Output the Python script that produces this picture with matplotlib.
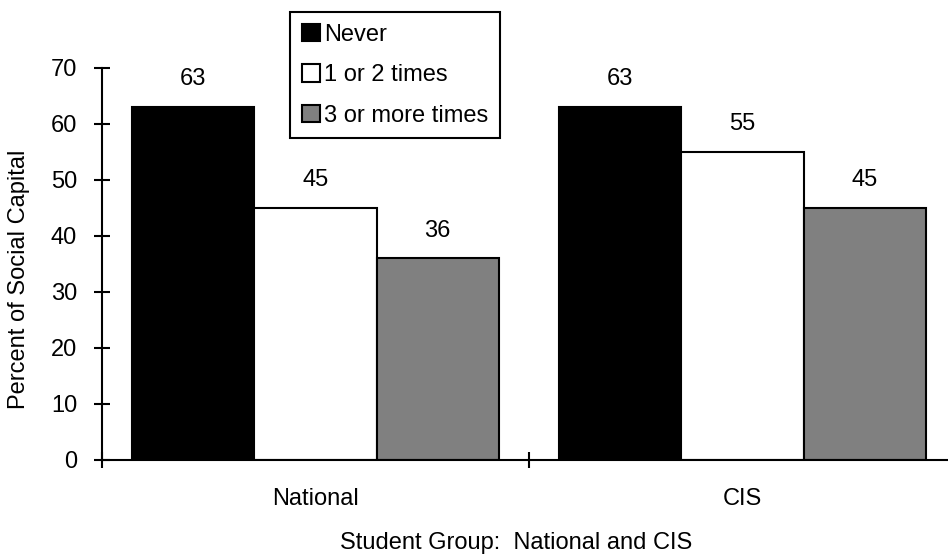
import matplotlib.pyplot as plt
import numpy as np

plt.rcParams['font.family'] = ['Liberation Sans', 'DejaVu Sans']
plt.rcParams['font.size'] = 17

groups = ['National', 'CIS']
series = ['Never', '1 or 2 times', '3 or more times']
values = {
    'Never': [63, 63],
    '1 or 2 times': [45, 55],
    '3 or more times': [36, 45],
}
colors = ['black', 'white', '#808080']

fig = plt.figure(figsize=(9.48, 5.56), dpi=100)
ax = fig.add_axes([0.1076, 0.1727, 0.9008, 0.705])

x = np.arange(len(groups))
w = 0.286
for i, (name, c) in enumerate(zip(series, colors)):
    xs = x + (i - 1) * w
    bars = ax.bar(xs, values[name], w, color=c, edgecolor='black',
                  linewidth=1.5, label=name)
    for b, v in zip(bars, values[name]):
        ax.text(b.get_x() + b.get_width() / 2, v + 3.0, str(v),
                ha='center', va='bottom')

ax.set_xlim(-0.5, 1.5)
ax.set_ylim(0, 70)
ax.set_yticks(range(0, 71, 10))
ax.set_xticks(x)
ax.set_xticklabels(groups)
ax.set_xticks([-0.5, 0.5, 1.5], minor=True)
ax.tick_params(axis='x', which='major', length=0, pad=20)
ax.tick_params(axis='x', which='minor', direction='inout', length=12, width=1.5)
ax.tick_params(axis='y', direction='inout', length=12, width=1.5, pad=12)

for s in ['top', 'right']:
    ax.spines[s].set_visible(False)
for s in ['left', 'bottom']:
    ax.spines[s].set_linewidth(1.5)
ax.spines['bottom'].set_clip_on(False)

ax.set_ylabel('Percent of Social Capital')
ax.yaxis.set_label_coords(-0.084, 0.46)
ax.set_xlabel('Student Group:  National and CIS')
ax.xaxis.set_label_coords(0.485, -0.185)

leg = ax.legend(loc='upper left', bbox_to_anchor=(290 / 948, 1 - 12 / 556),
                bbox_transform=fig.transFigure, frameon=True, fancybox=False,
                handlelength=0.75, handleheight=0.75, handletextpad=0.2,
                labelspacing=0.78, borderpad=0.5, borderaxespad=0)
leg.get_frame().set_edgecolor('black')
leg.get_frame().set_linewidth(1.5)
leg.get_frame().set_alpha(1)

fig.savefig('out.png', dpi=100)
